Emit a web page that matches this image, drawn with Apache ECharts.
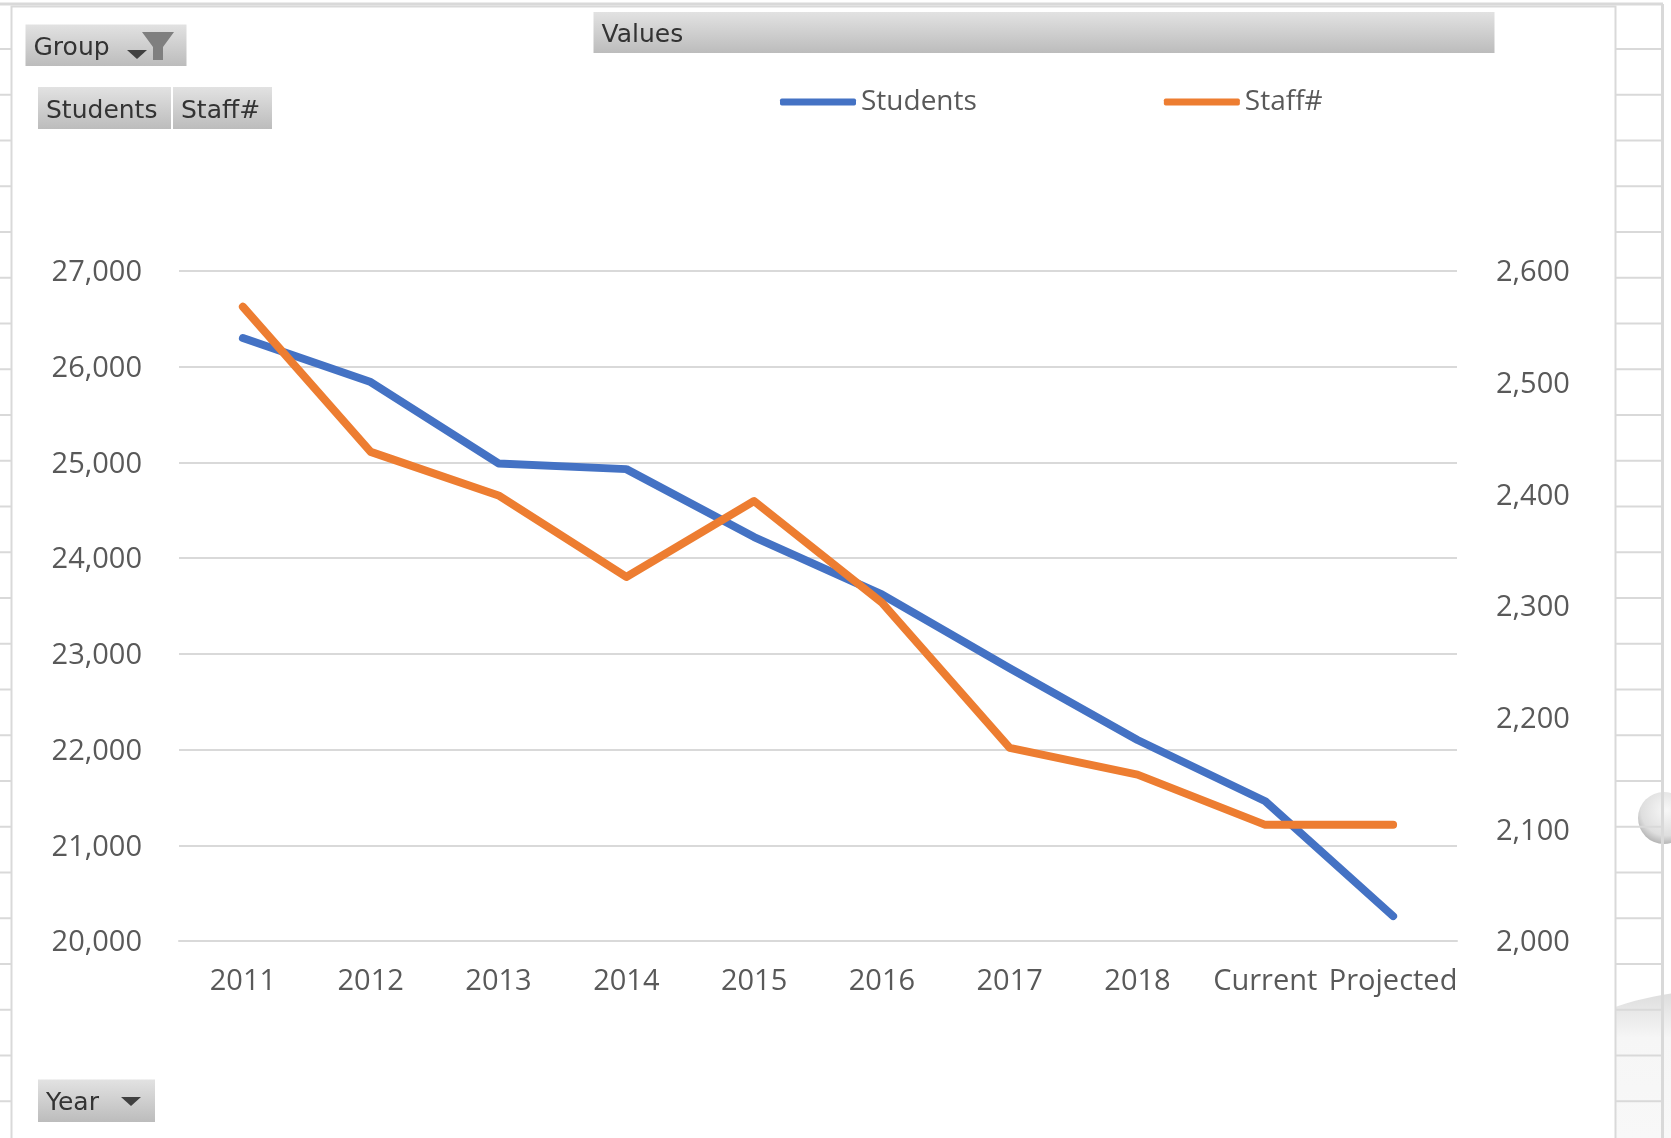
<!DOCTYPE html>
<html>
<head>
<meta charset="utf-8">
<title>Students and Staff</title>
<style>
  html, body { margin: 0; padding: 0; background: #fff; }
  #main { width: 1671px; height: 1138px; }
</style>
<script src="https://cdn.jsdelivr.net/npm/echarts@6/dist/echarts.min.js"></script>
</head>
<body>
<div id="main"></div>
<script>
var years = ['2011', '2012', '2013', '2014', '2015', '2016', '2017', '2018', 'Current', 'Projected'];
var students = [26300, 25840, 24990, 24930, 24220, 23620, 22850, 22100, 21460, 20260];
var staff = [2568, 2438, 2399, 2326, 2394, 2303, 2173, 2149, 2104, 2104];

var myChart = echarts.init(document.getElementById('main'));

var labelFont = 'Open Sans';
var buttonFont = 'DejaVu Sans';
var sheetLine = '#d9d9d9';

function btnFill() {
  return new echarts.graphic.LinearGradient(0, 0, 0, 1, [
    {offset: 0, color: '#e2e2e2'},
    {offset: 1, color: '#bcbcbc'}
  ]);
}

// pivot chart field button
function button(x, y, w, h, text) {
  return [
    {type: 'rect', z: 6, shape: {x: x, y: y, width: w, height: h}, style: {fill: btnFill()}},
    {type: 'text', z: 7, x: x + 8, y: y + h / 2 + 3, style: {
      text: text, font: '25px "' + buttonFont + '"', fill: '#333', textVerticalAlign: 'middle'
    }}
  ];
}

function arrow(x, y) {
  return {type: 'polygon', z: 7, shape: {points: [[x, y], [x + 20, y], [x + 10, y + 9]]}, style: {fill: '#404040'}};
}

// the worksheet behind the chart
var sheet = [];
sheet.push({type: 'ellipse', z: 0, shape: {cx: 1720, cy: 1190, rx: 260, ry: 200}, style: {
  fill: new echarts.graphic.LinearGradient(0, 0, 0, 1, [
    {offset: 0, color: '#dcdcdc'},
    {offset: 0.12, color: '#f6f6f6'},
    {offset: 1, color: '#fdfdfd'}
  ])
}});
sheet.push({type: 'circle', z: 0, shape: {cx: 1664, cy: 818, r: 26}, style: {
  fill: new echarts.graphic.RadialGradient(0.55, 0.35, 0.7, [
    {offset: 0, color: '#f8f8f8'},
    {offset: 0.7, color: '#dedede'},
    {offset: 1, color: '#aaaaaa'}
  ])
}});
for (var i = 0; i < 24; i++) {
  var rowY = 49 + 45.75 * i;
  sheet.push({type: 'line', z: 1, shape: {x1: 0, y1: rowY, x2: 11, y2: rowY}, style: {stroke: sheetLine, lineWidth: 2}});
  sheet.push({type: 'line', z: 1, shape: {x1: 1616, y1: rowY, x2: 1662, y2: rowY}, style: {stroke: sheetLine, lineWidth: 2}});
}
sheet.push({type: 'line', z: 1, shape: {x1: 0, y1: 4, x2: 1663, y2: 4}, style: {stroke: sheetLine, lineWidth: 3}});
sheet.push({type: 'line', z: 1, shape: {x1: 1662.5, y1: 4, x2: 1662.5, y2: 1138}, style: {stroke: sheetLine, lineWidth: 3}});
sheet.push({type: 'rect', z: 2, shape: {x: 11.5, y: 6.5, width: 1604, height: 1140}, style: {fill: '#fff', stroke: sheetLine, lineWidth: 2}});

var buttons = []
  .concat(button(25.5, 24.5, 161, 41.5, 'Group'))
  .concat(button(593.5, 12, 901, 41, 'Values'))
  .concat(button(38, 87, 133, 42, 'Students'))
  .concat(button(173, 87, 99, 42, 'Staff#'))
  .concat(button(38, 1079.5, 117, 42.5, 'Year'));
buttons.push(arrow(127, 50));
buttons.push(arrow(121, 1097));
// filter funnel on the Group button
buttons.push({type: 'polygon', z: 7, shape: {
  points: [[142, 32], [174, 32], [163, 47], [163, 60], [153, 60], [153, 47]]
}, style: {fill: '#7f7f7f'}});

myChart.setOption({
  animation: false,
  backgroundColor: '#fff',
  graphic: {elements: sheet.concat(buttons)},
  legend: {
    left: 775,
    top: 83,
    z: 8,
    itemWidth: 76,
    itemHeight: 7,
    itemGap: 187,
    icon: 'roundRect',
    textStyle: {fontFamily: labelFont, fontSize: 28, color: '#595959', padding: [0, 0, 0, 0]},
    data: ['Students', 'Staff#']
  },
  grid: {left: 179, right: 214, top: 271, height: 670, containLabel: false},
  xAxis: {
    type: 'category',
    z: 3,
    data: years,
    axisTick: {show: false},
    axisLine: {lineStyle: {color: '#d9d9d9', width: 2}},
    axisLabel: {interval: 0, fontFamily: labelFont, fontSize: 29, color: '#595959', margin: 26}
  },
  yAxis: [
    {
      type: 'value',
      z: 3,
      min: 20000,
      max: 27000,
      interval: 1000,
      axisLine: {show: false},
      axisTick: {show: false},
      splitLine: {lineStyle: {color: '#d9d9d9', width: 2}},
      axisLabel: {
        fontFamily: labelFont, fontSize: 29, color: '#595959', margin: 37,
        verticalAlign: 'top', lineHeight: 4,
        formatter: function (v) { return v.toLocaleString('en-US'); }
      }
    },
    {
      type: 'value',
      z: 3,
      min: 2000,
      max: 2600,
      interval: 100,
      position: 'right',
      axisLine: {show: false},
      axisTick: {show: false},
      splitLine: {show: false},
      axisLabel: {
        fontFamily: labelFont, fontSize: 29, color: '#595959', margin: 39,
        verticalAlign: 'top', lineHeight: 4,
        formatter: function (v) { return v.toLocaleString('en-US'); }
      }
    }
  ],
  series: [
    {
      name: 'Students',
      type: 'line',
      data: students,
      yAxisIndex: 0,
      symbol: 'none',
      z: 4,
      itemStyle: {color: '#4472c4'},
      lineStyle: {color: '#4472c4', width: 8, cap: 'round', join: 'round'}
    },
    {
      name: 'Staff#',
      type: 'line',
      data: staff,
      yAxisIndex: 1,
      symbol: 'none',
      z: 5,
      itemStyle: {color: '#ed7d31'},
      lineStyle: {color: '#ed7d31', width: 8, cap: 'round', join: 'round'}
    }
  ]
});
</script>
</body>
</html>
